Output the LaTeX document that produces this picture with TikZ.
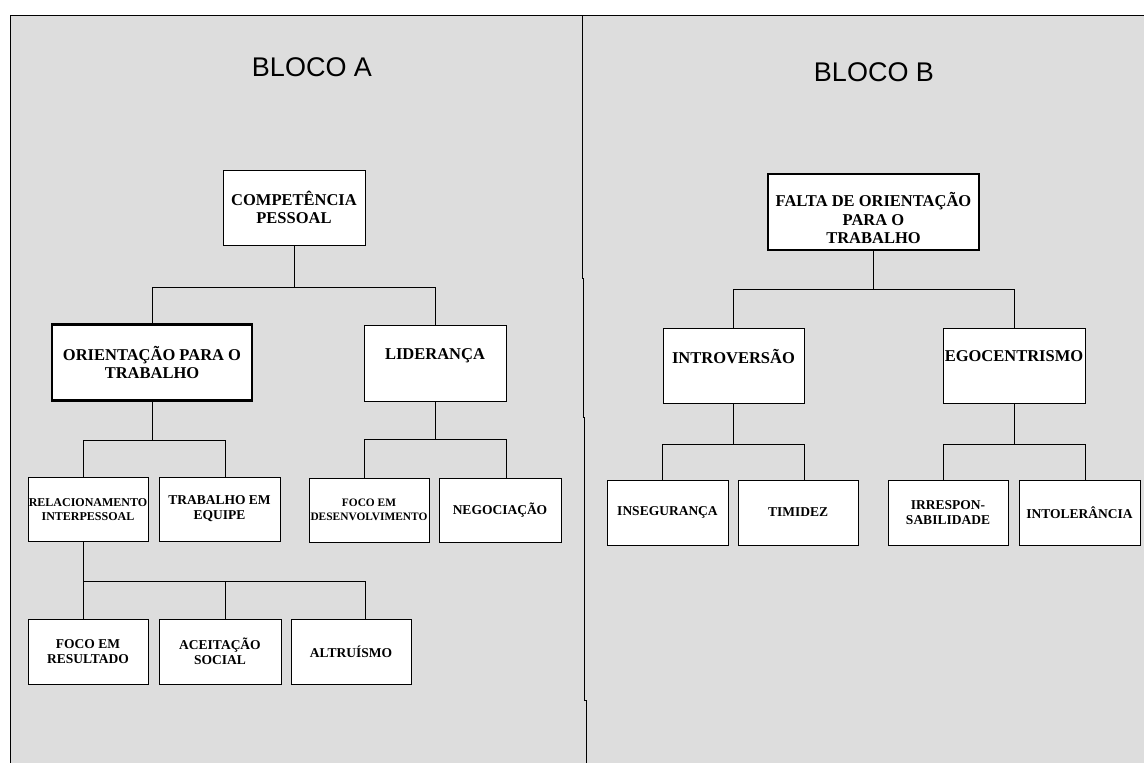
\documentclass[tikz,border=0pt]{standalone}
\usepackage{fontspec}
\usetikzlibrary{calc}
\setmainfont{Liberation Serif}
\newfontfamily\blocofont{Liberation Sans}
\definecolor{bggray}{RGB}{221,221,221}
\begin{document}
\begin{tikzpicture}[x=1pt,y=-1pt,
  box/.style={draw=black, line width=0.9pt, fill=white, inner sep=0pt, align=center,
    font=\bfseries\fontsize{13.5}{15}\selectfont},
  smallbox/.style={box, minimum width=120pt, minimum height=64pt},
  widebox/.style={font=\bfseries\fontsize{12}{14.5}\selectfont},
  narrowbox/.style={font=\bfseries\fontsize{11.4}{14.5}\selectfont},
  bigbox/.style={box, minimum height=76pt, font=\bfseries\fontsize{16.5}{18.5}\selectfont},
  bigtext/.style={inner sep=0pt, align=center, font=\bfseries\fontsize{16.5}{18.5}\selectfont},
  thickbox/.style={line width=2.8pt},
  conn/.style={line width=0.9pt},
  blocotitle/.style={font=\blocofont\fontsize{27}{30}\selectfont, inner sep=0pt}]
\useasboundingbox (0,0) rectangle (1144,763);
\fill[white] (0,0) rectangle (1144,763);
\fill[bggray] (10,15) rectangle (1144,763);
\draw[line width=1pt] (10,763) -- (10,15) -- (1144,15);
% divider
\draw[line width=0.9pt] (582,15) -- (582,278) -- (583,278) -- (583,417) -- (584.5,417) -- (584.5,700) -- (586,700) -- (586,763);

% titles
\node[blocotitle] (ta) at (312,67) {BLOCO A};
\node[blocotitle] (tb) at (874,72.5) {BLOCO B};

% ---- Bloco A ----
\node[bigbox, minimum width=142pt, minimum height=75pt] (comp) at (294,207.5) {COMPETÊNCIA\\PESSOAL};
\node[bigbox, thickbox, minimum width=200pt] (ori) at (152,362.5) {ORIENTAÇÃO PARA O\\TRABALHO};
\node[bigbox, minimum width=142pt] (lid) at (435,363) {LIDERANÇA\\\mbox{}};

\node[smallbox, widebox] (rel) at (88,509.5) {RELACIONAMENTO\\INTERPESSOAL};
\node[smallbox, minimum width=121pt] (trab) at (219.5,509) {TRABALHO EM\\EQUIPE};
\node[smallbox, narrowbox] (focod) at (369,510) {FOCO EM\\DESENVOLVIMENTO};
\node[smallbox, minimum width=122pt] (neg) at (500,510) {NEGOCIAÇÃO};

\node[smallbox, minimum height=65pt] (focor) at (88,651.5) {FOCO EM\\RESULTADO};
\node[smallbox, minimum width=122pt, minimum height=65pt] (acei) at (220,651.5) {ACEITAÇÃO\\SOCIAL};
\node[smallbox, minimum height=65pt] (altr) at (351,651.5) {ALTRUÍSMO};

\coordinate (j1) at ($(comp.south)+(0,42)$);
\coordinate (j2) at ($(ori.south)+(0,39)$);
\coordinate (j3) at ($(lid.south)+(0,38)$);
\coordinate (j4) at ($(rel.south)+(-5,39)$);

\draw[conn] (comp.south) -- (j1);
\draw[conn] (ori.north) |- (j1) -| (lid.north);
\draw[conn] (ori.south) -- (j2);
\draw[conn] ([xshift=-5pt]rel.north) |- (j2) -| ([xshift=5.5pt]trab.north);
\draw[conn] (lid.south) -- (j3);
\draw[conn] ([xshift=-5pt]focod.north) |- (j3) -| ([xshift=6pt]neg.north);
\draw[conn] ([xshift=-5pt]rel.south) -- (j4);
\draw[conn] ([xshift=-5pt]focor.north) -- (j4) -| ([xshift=14pt]altr.north);
\draw[conn] ([xshift=5pt]acei.north) -- ([xshift=5pt]acei.north |- j4);

% ---- Bloco B ----
\node[bigbox, thickbox, minimum width=211pt] (falta) at (873.5,212) {};
\node[bigtext] (faltat) at ([yshift=-6pt]falta.center) {FALTA DE ORIENTAÇÃO\\PARA O\\TRABALHO};
\node[bigbox, minimum width=141pt, minimum height=75pt] (intro) at (733.5,365.5) {INTROVERSÃO\\\mbox{}};
\node[bigbox, minimum width=142pt, minimum height=75pt] (ego) at (1014,365.5) {EGOCENTRISMO\\\mbox{}};

\node[smallbox, minimum height=65pt, minimum width=121pt] (inseg) at (667.5,512.5) {INSEGURANÇA};
\node[smallbox, minimum height=65pt] (timi) at (798,512.5) {TIMIDEZ};
\node[smallbox, minimum height=65pt] (irr) at (948,512.5) {IRRESPON-\\SABILIDADE};
\node[smallbox, minimum height=65pt, minimum width=121pt] (intol) at (1079.5,512.5) {INTOLERÂNCIA};

\coordinate (k1) at ($(falta.south)+(0,38)$);
\coordinate (k2) at ($(intro.south)+(0,41)$);
\coordinate (k3) at ($(ego.south)+(0,41)$);

\draw[conn] (falta.south) -- (k1);
\draw[conn] (intro.north) |- (k1) -| (ego.north);
\draw[conn] (intro.south) -- (k2);
\draw[conn] ([xshift=-5pt]inseg.north) |- (k2) -| ([xshift=6pt]timi.north);
\draw[conn] (ego.south) -- (k3);
\draw[conn] ([xshift=-5pt]irr.north) |- (k3) -| ([xshift=5.5pt]intol.north);
\end{tikzpicture}
\end{document}
